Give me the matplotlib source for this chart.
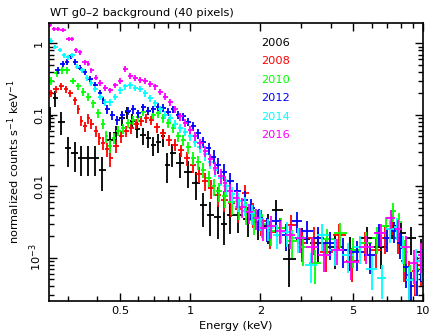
import matplotlib
matplotlib.use('Agg')
import matplotlib.pyplot as plt
import numpy as np
from matplotlib.ticker import FixedLocator, FixedFormatter, NullFormatter

plt.rcParams['font.family'] = 'DejaVu Sans'
plt.rcParams['font.size'] = 8.2

# Espectros de fondo por año: energía (keV), tasa (cts/s/keV), error relativo
e2006 = [0.251, 0.263, 0.280, 0.299, 0.321, 0.341, 0.365, 0.391, 0.419, 0.454, 0.481, 0.511,
         0.537, 0.564, 0.592, 0.629, 0.660, 0.694, 0.729, 0.766, 0.797, 0.837, 0.906, 0.980,
         1.06, 1.14, 1.22, 1.31, 1.40, 1.48, 1.61, 1.77, 1.96, 2.16, 2.34, 2.66, 3.03, 3.54,
         4.19, 4.86, 5.75, 6.60, 7.36, 8.05, 8.88, 9.80]
r2006 = [0.095, 0.17, 0.08, 0.034, 0.029, 0.025, 0.025, 0.025, 0.017, 0.044, 0.055, 0.09,
         0.108, 0.083, 0.063, 0.052, 0.047, 0.038, 0.042, 0.05, 0.02, 0.029, 0.021, 0.016,
         0.011, 0.0054, 0.0040, 0.0037, 0.0030, 0.0039, 0.0040, 0.0035, 0.0032, 0.0028, 0.0046,
         0.00097, 0.0018, 0.0016, 0.0014, 0.0013, 0.0019, 0.0014, 0.0028, 0.0022, 0.0019, 0.0012]
s2006 = [0.35, 0.25, 0.35, 0.45, 0.45, 0.45, 0.45, 0.45, 0.5, 0.3, 0.28, 0.22, 0.2, 0.22, 0.25,
         0.27, 0.28, 0.3, 0.3, 0.28, 0.45, 0.35, 0.38, 0.4, 0.42, 0.5, 0.5, 0.5, 0.5, 0.45,
         0.45, 0.45, 0.45, 0.45, 0.38, 0.6, 0.45, 0.45, 0.5, 0.5, 0.42, 0.5, 0.35, 0.4, 0.42, 0.5]

e2008 = [0.253, 0.266, 0.280, 0.294, 0.306, 0.321, 0.331, 0.341, 0.354, 0.365, 0.376, 0.395,
         0.407, 0.423, 0.440, 0.454, 0.481, 0.506, 0.531, 0.558, 0.586, 0.616, 0.647, 0.680,
         0.722, 0.766, 0.813, 0.862, 0.915, 0.971, 1.03, 1.09, 1.16, 1.23, 1.31, 1.40, 1.50,
         1.61, 1.72, 1.86, 2.02, 2.20, 2.43, 2.71, 3.03, 3.41, 3.83, 4.36, 4.96, 5.64, 6.28,
         6.87, 7.36, 7.81, 8.29, 8.71, 9.24, 9.80]
r2008 = [0.20, 0.23, 0.25, 0.23, 0.20, 0.16, 0.12, 0.083, 0.069, 0.089, 0.075, 0.06,
         0.047, 0.041, 0.033, 0.025, 0.037, 0.05, 0.06, 0.065, 0.075, 0.083, 0.09, 0.085,
         0.067, 0.055, 0.044, 0.038, 0.032, 0.025, 0.02, 0.015, 0.012, 0.0095, 0.0075, 0.0065,
         0.0058, 0.0048, 0.0080, 0.0042, 0.0033, 0.0023, 0.0026, 0.0029, 0.0016, 0.0019, 0.0012,
         0.0021, 0.0009, 0.0016, 0.0013, 0.0019, 0.0031, 0.0019, 0.0009, 0.00057, 0.00065, 0.00079]
s2008 = [0.12, 0.11, 0.11, 0.11, 0.12, 0.13, 0.14, 0.16, 0.17, 0.15, 0.16, 0.18, 0.2, 0.21, 0.22,
         0.25, 0.22, 0.2, 0.18, 0.17, 0.16, 0.15, 0.15, 0.15, 0.16, 0.17, 0.18, 0.19, 0.2, 0.22,
         0.24, 0.26, 0.28, 0.3, 0.32, 0.33, 0.35, 0.37, 0.3, 0.38,
         0.4, 0.42, 0.4, 0.38, 0.45, 0.42, 0.48, 0.4, 0.5, 0.44, 0.45, 0.4, 0.33, 0.4, 0.5, 0.6, 0.55, 0.5]

e2010 = [0.253, 0.269, 0.282, 0.297, 0.315, 0.331, 0.347, 0.365, 0.383, 0.403, 0.423, 0.436,
         0.454, 0.472, 0.491, 0.516, 0.542, 0.569, 0.598, 0.629, 0.660, 0.694, 0.729, 0.766,
         0.805, 0.845, 0.888, 0.933, 0.980, 1.03, 1.08, 1.14, 1.20, 1.26, 1.33, 1.41, 1.51,
         1.62, 1.74, 1.88, 2.04, 2.23, 2.46, 2.74, 3.05, 3.44, 3.87, 4.40, 5.01, 5.69, 6.35,
         6.94, 7.44, 7.89, 8.37, 8.80, 9.33, 9.80]
r2010 = [0.30, 0.38, 0.42, 0.42, 0.30, 0.25, 0.21, 0.18, 0.145, 0.105, 0.075, 0.05,
         0.037, 0.047, 0.06, 0.065, 0.076, 0.085, 0.093, 0.11, 0.115, 0.10, 0.105, 0.09,
         0.076, 0.065, 0.05, 0.044, 0.035, 0.025, 0.022, 0.017, 0.013, 0.010, 0.0085, 0.0072,
         0.006, 0.0052, 0.0045, 0.0034, 0.003, 0.0024, 0.0026, 0.0017, 0.0014, 0.00085, 0.0018,
         0.0022, 0.0013, 0.0016, 0.0019, 0.0028, 0.0045, 0.0032, 0.0012, 0.0005, 0.0007, 0.001]
s2010 = [0.12, 0.11, 0.1, 0.1, 0.11, 0.11, 0.12, 0.12, 0.13, 0.14, 0.16, 0.18, 0.2, 0.18, 0.17,
         0.16, 0.15, 0.14, 0.14, 0.13, 0.13, 0.13, 0.13, 0.14, 0.14, 0.15, 0.16, 0.17, 0.18, 0.2,
         0.22, 0.24, 0.26, 0.28, 0.3, 0.32, 0.34, 0.35, 0.36, 0.38,
         0.38, 0.4, 0.38, 0.42, 0.45, 0.5, 0.4, 0.38, 0.45, 0.42, 0.4, 0.34, 0.3, 0.34, 0.48, 0.6, 0.55, 0.5]

e2012 = [0.271, 0.285, 0.297, 0.309, 0.321, 0.337, 0.354, 0.372, 0.391, 0.411, 0.423, 0.440,
         0.463, 0.486, 0.511, 0.542, 0.569, 0.598, 0.629, 0.660, 0.694, 0.729, 0.766, 0.805,
         0.845, 0.888, 0.933, 0.980, 1.03, 1.08, 1.14, 1.20, 1.26, 1.32, 1.40, 1.48, 1.59,
         1.71, 1.83, 1.98, 2.14, 2.34, 2.58, 2.88, 3.18, 3.54, 3.99, 4.54, 5.21, 5.92, 6.48,
         7.01, 7.51, 7.97, 8.45, 8.88, 9.42, 9.80]
r2012 = [0.42, 0.52, 0.55, 0.66, 0.55, 0.46, 0.40, 0.32, 0.26, 0.20, 0.16, 0.12,
         0.10, 0.085, 0.10, 0.115, 0.12, 0.105, 0.127, 0.115, 0.12, 0.13, 0.125, 0.11,
         0.12, 0.10, 0.095, 0.08, 0.07, 0.055, 0.042, 0.034, 0.026, 0.02, 0.016, 0.012,
         0.0085, 0.0065, 0.005, 0.0036, 0.0026, 0.0033, 0.0021, 0.0033, 0.0024, 0.0019, 0.0016,
         0.0013, 0.0012, 0.0011, 0.0022, 0.0019, 0.0024, 0.0016, 0.00075, 0.0004, 0.00065, 0.0009]
s2012 = [0.1, 0.09, 0.09, 0.09, 0.09, 0.09, 0.1, 0.1, 0.1, 0.11, 0.12, 0.13, 0.14, 0.15, 0.14,
         0.13, 0.13, 0.13, 0.12, 0.12, 0.12, 0.12, 0.12, 0.12, 0.12, 0.13, 0.13, 0.14, 0.15, 0.16,
         0.18, 0.2, 0.22, 0.25, 0.27, 0.29, 0.3, 0.32, 0.33, 0.35,
         0.37, 0.33, 0.4, 0.33, 0.36, 0.4, 0.42, 0.44, 0.45, 0.46, 0.34, 0.36, 0.33, 0.4, 0.5, 0.6, 0.55, 0.5]

e2014 = [0.253, 0.263, 0.277, 0.288, 0.299, 0.312, 0.327, 0.344, 0.361, 0.376, 0.391, 0.411,
         0.432, 0.454, 0.477, 0.501, 0.526, 0.553, 0.581, 0.610, 0.641, 0.673, 0.708, 0.743,
         0.781, 0.821, 0.862, 0.906, 0.952, 1.00, 1.05, 1.10, 1.16, 1.22, 1.28, 1.35, 1.43,
         1.51, 1.61, 1.72, 1.85, 2.00, 2.16, 2.36, 2.61, 2.91, 3.31, 3.69, 4.19, 4.77, 5.37,
         6.04, 6.67, 7.22, 7.73, 8.21, 8.71, 9.33, 9.90]
r2014 = [1.1, 0.9, 0.82, 0.68, 0.64, 0.68, 0.47, 0.42, 0.33, 0.28, 0.23, 0.18, 0.15, 0.15,
         0.18, 0.22, 0.25, 0.26, 0.24, 0.23, 0.20, 0.17, 0.145, 0.12, 0.10, 0.09, 0.075, 0.065,
         0.058, 0.05, 0.042, 0.035, 0.028, 0.022, 0.017, 0.013, 0.010, 0.0078, 0.0062, 0.0055,
         0.0042, 0.0035, 0.0026, 0.0021, 0.0023, 0.0019, 0.0008, 0.0021, 0.0013, 0.0011, 0.0014,
         0.0007, 0.00052, 0.0025, 0.0027, 0.0014, 0.00048, 0.0009, 0.0009]
s2014 = [0.07, 0.07, 0.07, 0.07, 0.07, 0.08, 0.08, 0.08, 0.09, 0.09, 0.09, 0.1, 0.1, 0.1, 0.1, 0.1,
         0.1, 0.1, 0.1, 0.1, 0.1, 0.11, 0.11, 0.12, 0.12, 0.13, 0.13, 0.14, 0.14, 0.15,
         0.16, 0.17, 0.18, 0.2, 0.21, 0.23, 0.25, 0.27, 0.29, 0.3,
         0.32, 0.33, 0.35, 0.36, 0.38, 0.38, 0.45, 0.4, 0.42, 0.44, 0.42, 0.5, 0.5, 0.35, 0.34, 0.42,
         0.55, 0.48, 0.48]

e2016 = [0.251, 0.261, 0.271, 0.285, 0.303, 0.312, 0.324, 0.337, 0.354, 0.365, 0.376, 0.395,
         0.411, 0.432, 0.454, 0.477, 0.501, 0.526, 0.553, 0.581, 0.610, 0.641, 0.673, 0.708,
         0.743, 0.781, 0.821, 0.862, 0.906, 0.952, 1.00, 1.05, 1.10, 1.16, 1.22, 1.28, 1.35,
         1.41, 1.48, 1.58, 1.67, 1.79, 1.92, 2.06, 2.23, 2.43, 2.69, 2.97, 3.34, 3.76, 4.28,
         4.91, 5.69, 6.60, 7.29, 7.81, 8.45, 9.15, 9.80]
r2016 = [1.8, 1.6, 1.6, 1.55, 1.17, 1.15, 0.8, 0.75, 0.55, 0.52, 0.42, 0.33, 0.28, 0.24,
         0.22, 0.26, 0.30, 0.44, 0.35, 0.33, 0.31, 0.30, 0.27, 0.25, 0.21, 0.18, 0.15, 0.12,
         0.095, 0.078, 0.062, 0.05, 0.04, 0.031, 0.024, 0.018, 0.014, 0.011, 0.0085, 0.0068,
         0.0052, 0.0043, 0.0036, 0.0026, 0.0028, 0.0024, 0.0021, 0.0019, 0.0014, 0.0011, 0.0013,
         0.00088, 0.0014, 0.0022, 0.0036, 0.0025, 0.0014, 0.00085, 0.0011]
s2016 = [0.06, 0.06, 0.06, 0.06, 0.07, 0.07, 0.07, 0.07, 0.08, 0.08, 0.08, 0.08, 0.09, 0.09, 0.09, 0.09,
         0.09, 0.1, 0.1, 0.1, 0.1, 0.1, 0.1, 0.1, 0.11, 0.11, 0.12, 0.12, 0.13, 0.13,
         0.14, 0.15, 0.16, 0.18, 0.19, 0.21, 0.23, 0.25, 0.27, 0.28,
         0.3, 0.3, 0.32, 0.35, 0.35, 0.36, 0.38, 0.38, 0.4, 0.42, 0.4, 0.45, 0.42, 0.36, 0.3, 0.34,
         0.42, 0.5, 0.45]

years = ['2006', '2008', '2010', '2012', '2014', '2016']
colors = ['#000000', '#ff0000', '#00ff00', '#0000ff', '#00ffff', '#ff00ff']
series = [(e2006, r2006, s2006), (e2008, r2008, s2008), (e2010, r2010, s2010),
          (e2012, r2012, s2012), (e2014, r2014, s2014), (e2016, r2016, s2016)]

x_ticks = [0.5, 1, 2, 5, 10]
x_labels = ['0.5', '1', '2', '5', '10']
y_ticks = [1e-3, 1e-2, 1e-1, 1]
y_labels = ['$10^{-3}$', '0.01', '0.1', '1']


def bin_halfwidths(e):
    """Semi-anchos de bin a partir de los puntos medios geométricos"""
    le = np.log10(e)
    mid = (le[1:] + le[:-1]) / 2
    lo = np.concatenate([[le[0] - (mid[0] - le[0])], mid])
    hi = np.concatenate([mid, [le[-1] + (le[-1] - mid[-1])]])
    return e - 10 ** lo, 10 ** hi - e


fig = plt.figure(figsize=(4.29, 3.32), dpi=100)
ax = fig.add_axes([0.115, 0.094, 0.872, 0.836])

for (e, r, s), c in zip(series, colors):
    e = np.array(e)
    r = np.array(r)
    xlo, xhi = bin_halfwidths(e)
    ax.errorbar(e, r, xerr=[xlo, xhi], yerr=r * np.array(s), fmt='none',
                ecolor=c, elinewidth=1.3, capsize=0)

ax.set_xscale('log')
ax.set_yscale('log')
ax.set_xlim(0.249, 10)
ax.set_ylim(2.49e-4, 1.92)

ax.xaxis.set_major_locator(FixedLocator(x_ticks))
ax.xaxis.set_major_formatter(FixedFormatter(x_labels))
ax.xaxis.set_minor_locator(FixedLocator([0.3, 0.4, 0.6, 0.7, 0.8, 0.9, 3, 4, 6, 7, 8, 9]))
ax.xaxis.set_minor_formatter(NullFormatter())
ax.yaxis.set_major_locator(FixedLocator(y_ticks))
ax.yaxis.set_major_formatter(FixedFormatter(y_labels))
ax.yaxis.set_minor_locator(FixedLocator([m * 10.0 ** k for k in range(-4, 1) for m in range(2, 10)]))
ax.yaxis.set_minor_formatter(NullFormatter())

ax.tick_params(which='both', direction='in', top=True, right=True, width=1.0)
ax.tick_params(which='major', length=6, pad=4)
ax.tick_params(which='minor', length=3.5)
for lbl in ax.get_yticklabels():
    lbl.set_rotation(90)
    lbl.set_va('center')
for sp in ax.spines.values():
    sp.set_linewidth(1.2)

for i, (yr, c) in enumerate(zip(years, colors)):
    ax.text(0.566, 0.918 - i * 0.0663, yr, color=c, transform=ax.transAxes,
            ha='left', va='baseline')

fig.text(50 / 429, 1 - 16.5 / 332, 'WT g0\u20132 background (40 pixels)', ha='left', va='baseline')
fig.text(236 / 429, 1 - 329 / 332, 'Energy (keV)', ha='center', va='baseline')
fig.text(14 / 429, 1 - 162 / 332, 'normalized counts s$^{-1}$ keV$^{-1}$', rotation=90,
         ha='center', va='center')

fig.savefig('out.png', dpi=100)
